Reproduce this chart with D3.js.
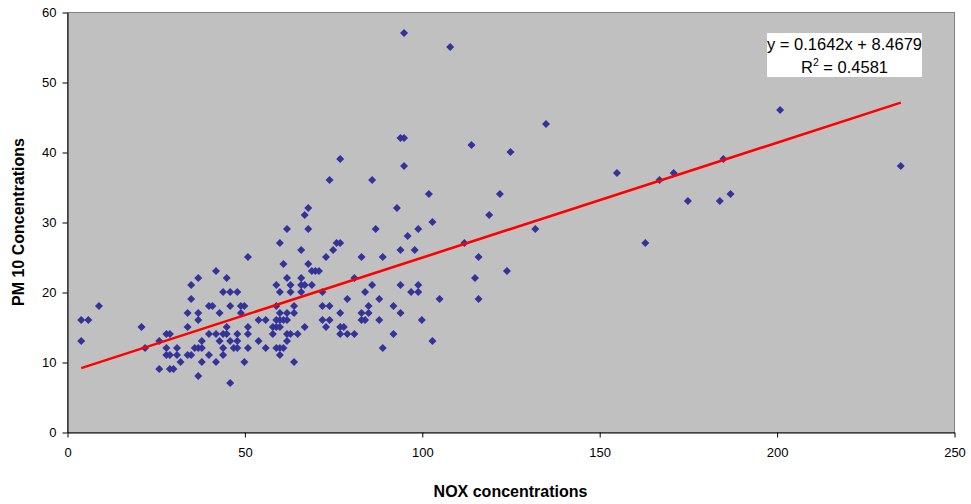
<!DOCTYPE html>
<html>
<head>
<meta charset="utf-8">
<script src="https://cdn.jsdelivr.net/npm/d3@7"></script>
<style>
  html, body { margin: 0; padding: 0; background: #ffffff; }
  svg { display: block; font-family: "Liberation Sans", Arial, sans-serif; }
</style>
</head>
<body>
<svg id="chart" width="971" height="504"></svg>
<script>
// NOX concentration (x) and PM 10 concentration (y) for each observation
const nox = [
  4, 4, 6, 9, 21, 22, 26, 26, 28, 29, 28, 28, 29, 29, 30,
  31, 31, 32, 34, 34, 34, 35, 35, 35, 36, 37, 37, 37, 37, 37, 38, 38, 38,
  40, 41, 40, 40, 42, 42, 42, 43, 43, 44, 44, 44, 44, 45, 45, 45, 46, 46, 46, 46,
  47, 48, 48, 48, 48, 49, 49, 50, 50,
  51, 51, 51, 51, 54, 54, 56, 56, 58, 58, 60,
  59, 59, 59, 59, 59, 60, 60, 60, 60, 60, 60, 61, 61, 61,
  62, 62, 62, 62, 62, 62, 63, 63, 63, 64, 64, 64, 65,
  66, 66, 66, 66, 67, 67, 67, 68, 68, 68, 69, 69, 70, 71,
  72, 72, 72, 73, 73, 74, 74, 74, 75, 76, 77, 77, 77, 77, 77, 78,
  79, 79, 81, 81, 83, 83, 83, 84, 84, 85, 85, 86, 86, 87, 88, 88, 89, 89,
  92, 92, 93, 94, 95, 94, 94, 94, 95, 95, 96, 97, 98, 99, 99, 99, 100,
  102, 103, 103, 105, 108,
  112, 114, 115, 116, 116, 119, 122, 124, 125, 132, 135,
  155, 163, 167, 171, 175, 184, 185, 187, 201, 235
];
const pm10 = [
  16, 13, 16, 18, 15, 12, 13, 9, 14, 14, 12, 11, 11, 9, 9,
  12, 11, 10, 17, 15, 11, 21, 19, 11, 12, 22, 17, 16, 12, 8, 13, 12, 10,
  18, 18, 14, 11, 23, 14, 10, 17, 13, 20, 14, 12, 11, 22, 15, 14, 20, 18, 13, 7,
  12, 20, 14, 13, 12, 18, 17, 18, 10,
  25, 15, 14, 12, 16, 13, 16, 12, 15, 14, 27,
  21, 18, 16, 15, 12, 20, 17, 16, 15, 11, 12, 24, 16, 12,
  29, 22, 17, 16, 14, 13, 21, 20, 14, 18, 17, 10, 14,
  26, 22, 21, 20, 31, 21, 15, 32, 29, 24, 23, 21, 23, 23,
  20, 18, 16, 25, 15, 36, 18, 16, 26, 27, 27, 39, 17, 15, 14, 15,
  19, 14, 22, 14, 25, 17, 16, 20, 16, 18, 17, 36, 21, 29, 19, 16, 25, 12,
  18, 14, 32, 42, 42, 26, 21, 17, 57, 38, 28, 20, 26, 29, 21, 20, 16,
  34, 30, 13, 19, 55,
  27, 41, 22, 25, 19, 31, 34, 23, 40, 29, 44,
  37, 27, 36, 37, 33, 33, 39, 34, 46, 38
];

// Linear trend fitted to the series
const trendSlope = 0.1642;
const trendIntercept = 8.4679;
const rSquared = 0.4581;

const xTicks = [0, 50, 100, 150, 200, 250];
const yTicks = [0, 10, 20, 30, 40, 50, 60];

const xTitle = "NOX concentrations";
const yTitle = "PM 10 Concentrations";

const points = nox.map((v, i) => ({ x: v, y: pm10[i] }));

const svg = d3.select("#chart");
const plot = { left: 67, right: 954, top: 12, bottom: 432 };

const x = d3.scaleLinear().domain([0, 250]).range([plot.left, plot.right]);
const y = d3.scaleLinear().domain([0, 60]).range([plot.bottom, plot.top]);

// plot area background with grey frame
svg.append("rect")
  .attr("x", plot.left + 0.5)
  .attr("y", plot.top + 0.5)
  .attr("width", plot.right - plot.left)
  .attr("height", plot.bottom - plot.top)
  .attr("fill", "#c0c0c0")
  .attr("stroke", "#808080")
  .attr("stroke-width", 1);

// axes
const yAxis = svg.append("g")
  .attr("transform", `translate(${plot.left + 0.5},0.5)`)
  .call(d3.axisLeft(y).tickValues(yTicks).tickSize(5).tickSizeOuter(0).tickPadding(6));

const xAxis = svg.append("g")
  .attr("transform", `translate(0.5,${plot.bottom + 0.5})`)
  .call(d3.axisBottom(x).tickValues(xTicks).tickSize(5).tickSizeOuter(0).tickPadding(10));

[xAxis, yAxis].forEach(g => {
  g.select(".domain").attr("stroke", "#000").attr("stroke-width", 1);
  g.selectAll(".tick line").attr("stroke", "#000");
  g.selectAll(".tick text")
    .attr("fill", "#000")
    .style("font-family", '"Liberation Sans", Arial, sans-serif')
    .style("font-size", "13px");
});

// scatter markers (diamonds)
const diamond = d3.symbol().type(d3.symbolSquare).size(32);
svg.append("g")
  .selectAll("path")
  .data(points)
  .join("path")
  .attr("d", diamond)
  .attr("transform", d => `translate(${x(d.x)},${y(d.y)}) rotate(45)`)
  .attr("fill", "#333399");

// trend line over the data range
const xMin = d3.min(nox), xMax = d3.max(nox);
const trend = [xMin, xMax].map(v => ({ x: v, y: trendSlope * v + trendIntercept }));
svg.append("path")
  .datum(trend)
  .attr("d", d3.line().x(d => x(d.x)).y(d => y(d.y)))
  .attr("fill", "none")
  .attr("stroke", "#ff0000")
  .attr("stroke-width", 2.6);

// equation label
const eqBox = svg.append("g");
eqBox.append("rect")
  .attr("x", 767).attr("y", 33)
  .attr("width", 155).attr("height", 44)
  .attr("fill", "#ffffff");
eqBox.append("text")
  .attr("x", 844.5).attr("y", 50)
  .attr("text-anchor", "middle")
  .style("font-size", "16.5px")
  .text(`y = ${trendSlope}x + ${trendIntercept}`);
const r2 = eqBox.append("text")
  .attr("x", 844.5).attr("y", 73)
  .attr("text-anchor", "middle")
  .style("font-size", "16.5px");
r2.append("tspan").text("R");
r2.append("tspan").attr("dy", -7).style("font-size", "10.5px").text("2");
r2.append("tspan").attr("dy", 7).text(` = ${rSquared}`);

// axis titles
svg.append("text")
  .attr("x", (plot.left + plot.right) / 2)
  .attr("y", 497)
  .attr("text-anchor", "middle")
  .style("font-size", "16px")
  .style("font-weight", "bold")
  .text(xTitle);

svg.append("text")
  .attr("transform", `translate(24,${(plot.top + plot.bottom) / 2}) rotate(-90)`)
  .attr("text-anchor", "middle")
  .style("font-size", "16px")
  .style("font-weight", "bold")
  .text(yTitle);
</script>
</body>
</html>
